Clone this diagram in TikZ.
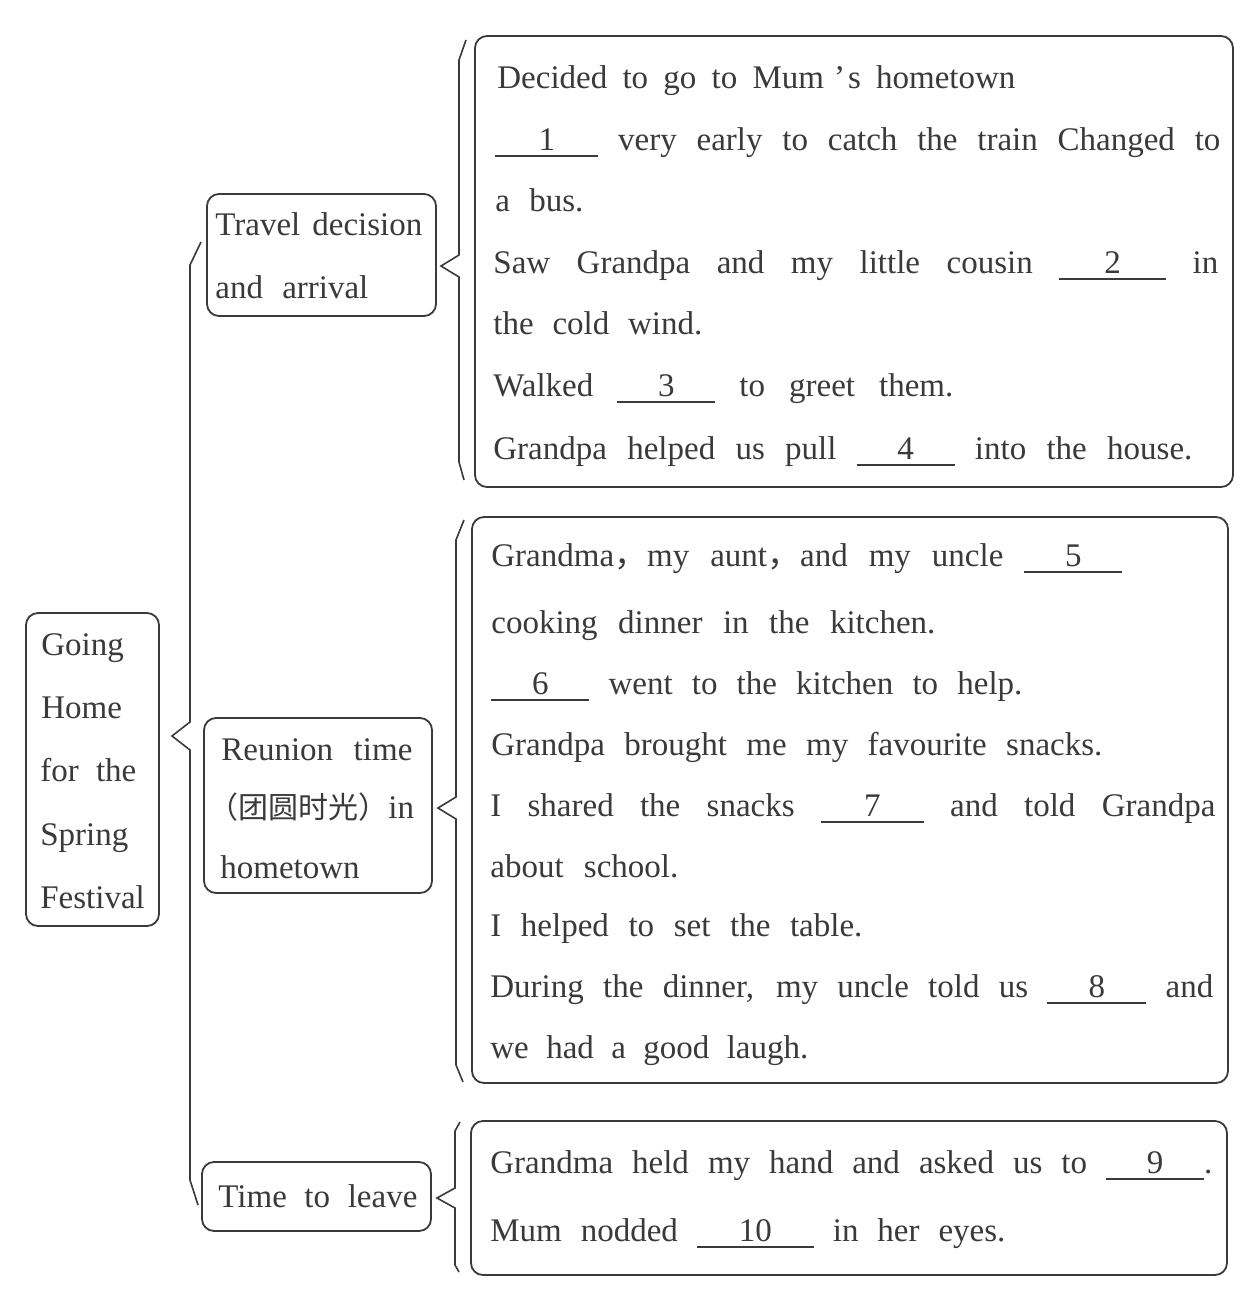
\documentclass[tikz,border=0pt]{standalone}
\usepackage{fontspec}
\setmainfont{Liberation Serif}
\newfontfamily\cjk{Noto Sans CJK SC}
\usetikzlibrary{calc}
\definecolor{ink}{HTML}{3A3A3A}
\newcommand\blank[2]{\rlap{\color{ink}\rule[-3.5pt]{#1}{0.8pt}}\makebox[#1]{#2}}
\newcommand\jl[2]{\makebox[#1][s]{#2}}
\tikzset{
  x=0.5pt,y=-0.5pt,
  box/.style={draw=ink, line width=0.9pt, rounded corners=6pt, inner sep=0pt},
  txt/.style={anchor=base west, inner sep=0pt, text=ink, font=\fontsize{16.5}{20}\selectfont},
  brace/.style={draw=ink, line width=0.8pt, line join=miter}
}
\begin{document}
\begin{tikzpicture}
\useasboundingbox[fill=white] (0,0) rectangle (1243,1292);

% boxes
\node[box, minimum width=66.5pt, minimum height=156.5pt] (root) at (92.5,769.5) {};
\node[box, minimum width=114.5pt, minimum height=61pt] (b1) at (321.5,255) {};
\node[box, minimum width=114pt, minimum height=87.5pt] (b2) at (318,805.5) {};
\node[box, minimum width=114.5pt, minimum height=34.5pt] (b3) at (316.5,1196.5) {};
\node[box, minimum width=379pt, minimum height=225.5pt] (c1) at (854,261.5) {};
\node[box, minimum width=378pt, minimum height=283pt] (c2) at (850,800) {};
\node[box, minimum width=378pt, minimum height=77pt] (c3) at (849,1198) {};

% braces (connectors)
\coordinate (tm) at (172,736);
\coordinate (t1) at (441,266);
\coordinate (t2) at (438,808);
\coordinate (t3) at (437,1198);
\draw[brace] (201,242) -- (190,265) -- (190,722) -- (tm) -- (190,750) -- (190,1180) -- (198,1205);
\draw[brace] (466,40) -- (459,60) -- (459,255) -- (t1) -- (459,277) -- (459,462) -- (464,480);
\draw[brace] (464,520) -- (456,540) -- (456,797) -- (t2) -- (456,819) -- (456,1065) -- (463,1082);
\draw[brace] (460,1122) -- (455,1131) -- (455,1188) -- (t3) -- (455,1208) -- (455,1265) -- (459,1272);

% root text
\node[txt] (r1) at (41,655) {Going};
\node[txt] (r2) at (41,718) {Home};
\node[txt] (r3) at (40,781) {\jl{48pt}{for the}};
\node[txt] (r4) at (40,845) {Spring};
\node[txt] (r5) at (40,908) {Festival};

% category text
\node[txt] (b1a) at (215,235) {\jl{103.5pt}{Travel decision}};
\node[txt] (b1b) at (215,298) {\jl{76.5pt}{and arrival}};
\node[txt] (b2a) at (221,760) {\jl{95.5pt}{Reunion time}};
\node[txt] (b2b) at (208,818) {{\cjk\fontsize{15}{15}\selectfont （团圆时光）}in};
\node[txt] (b2c) at (220,878) {hometown};
\node[txt] (b3a) at (218,1207) {\jl{99.5pt}{Time to leave}};

% content 1
\node[txt] (c1l1) at (497,88) {\jl{259pt}{Decided to go to Mum\kern5pt’\kern1.5pt s hometown}};
\node[txt] (c1l2) at (495,150) {\jl{362.5pt}{\blank{51.5pt}{1} very early to catch the train Changed to}};
\node[txt] (c1l3) at (495,211) {\jl{44pt}{a bus.}};
\node[txt] (c1l4) at (493,273) {\jl{362.5pt}{Saw Grandpa and my little cousin \blank{53.5pt}{2} in}};
\node[txt] (c1l5) at (493,334) {\jl{104.5pt}{the cold wind.}};
\node[txt] (c1l6) at (493,396) {\jl{230pt}{Walked \blank{49pt}{3} to greet them.}};
\node[txt] (c1l7) at (493,459) {\jl{349.5pt}{Grandpa helped us pull \blank{49pt}{4} into the house.}};

% content 2
\node[txt] (c2l1) at (491,566) {\jl{315.5pt}{Grandma{\cjk ，}my aunt{\cjk ，}and my uncle \blank{49pt}{5}}};
\node[txt] (c2l2) at (491,633) {\jl{222pt}{cooking dinner in the kitchen.}};
\node[txt] (c2l3) at (491,694) {\jl{265.5pt}{\blank{49pt}{6} went to the kitchen to help.}};
\node[txt] (c2l4) at (491,755) {\jl{305.5pt}{Grandpa brought me my favourite snacks.}};
\node[txt] (c2l5) at (490,816) {\jl{362.5pt}{I shared the snacks \blank{51.5pt}{7} and told Grandpa}};
\node[txt] (c2l6) at (490,877) {\jl{94pt}{about school.}};
\node[txt] (c2l7) at (490,936) {\jl{186pt}{I helped to set the table.}};
\node[txt] (c2l8) at (490,997) {\jl{361.5pt}{During the dinner, my uncle told us \blank{49.5pt}{8} and}};
\node[txt] (c2l9) at (490,1058) {\jl{159pt}{we had a good laugh.}};

% content 3
\node[txt] (c3l1) at (490,1173) {\jl{361pt}{Grandma held my hand and asked us to \blank{49pt}{9}.}};
\node[txt] (c3l2) at (490,1241) {\jl{257.5pt}{Mum nodded \blank{58.5pt}{10} in her eyes.}};
\end{tikzpicture}
\end{document}
